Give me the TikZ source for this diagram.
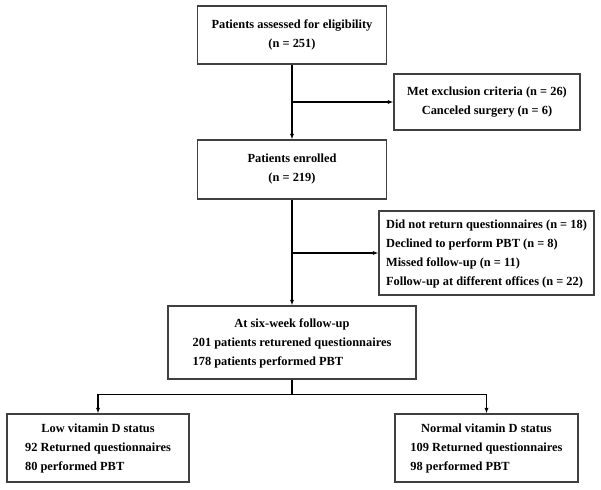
\documentclass[tikz,border=0pt]{standalone}
\usepackage{fontspec}
\setmainfont{Liberation Serif}
\usetikzlibrary{arrows.meta,calc,positioning}
\tikzset{
mybox/.style={
  rectangle,
  line width=1.1pt,
  draw={rgb:black,3;white,1},
  inner sep=0pt,
  align=center,
  font=\bfseries\fontsize{12.4}{19}\selectfont,
  }
}
\tikzset{
myline/.style={
  line width=1.5pt,
  -{Latex[length=2mm]}
  }
}

\begin{document}
\begin{tikzpicture}[x=1pt,y=-1pt]
    \fill[white] (0,0) rectangle (601,489);
    \useasboundingbox (0,0) rectangle (601,489);

    % main column
    \node[mybox, minimum width=189pt, minimum height=58pt] (assess) at (292,35) {Patients assessed for eligibility\\(n = 251)};
    \node[mybox, minimum width=189pt, minimum height=59pt] (enrol) at (292,169.5) {Patients enrolled\\(n = 219)};
    \node[mybox, minimum width=248pt, minimum height=73pt] (follow) at (292,342.5) {\begin{tabular}{@{}l@{}}\multicolumn{1}{@{}c@{}}{At six-week follow-up}\\201 patients returened questionnaires\\178 patients performed PBT\end{tabular}};

    % excluded part
    \node[mybox, minimum width=186pt, minimum height=56pt] (excl) at (487,102) {Met exclusion criteria (n = 26)\\Canceled surgery (n = 6)};
    \node[mybox, minimum width=215pt, minimum height=84pt] (drop) at (486.5,253) {\begin{tabular}{@{}l@{}}Did not return questionnaires (n = 18)\\Declined to perform PBT (n = 8)\\Missed follow-up (n = 11)\\Follow-up at different offices (n = 22)\end{tabular}};

    % vitamin D groups
    \node[mybox, minimum width=182pt, minimum height=68pt] (low) at (98,448) {\begin{tabular}{@{}l@{}}\multicolumn{1}{@{}c@{}}{Low vitamin D status}\\92 Returned questionnaires\\80 performed PBT\end{tabular}};
    \node[mybox, minimum width=183pt, minimum height=68pt] (normal) at (486.5,448) {\begin{tabular}{@{}l@{}}\multicolumn{1}{@{}c@{}}{Normal vitamin D status}\\109 Returned questionnaires\\98 performed PBT\end{tabular}};

    \coordinate (b1) at (assess.south |- excl.west);
    \coordinate (b2) at (enrol.south |- drop.west);
    \coordinate (split) at ($(follow.south)+(0,15)$);

    % edges
    \draw[myline] (assess) -- (enrol);
    \draw[myline] (b1) -- (excl.west);
    \draw[myline] (enrol) -- (follow);
    \draw[myline] (b2) -- (drop.west);
    \draw[myline] (follow.south) -- (split) -| (low.north);
    \draw[myline] (split) -| (normal.north);
\end{tikzpicture}
\end{document}
